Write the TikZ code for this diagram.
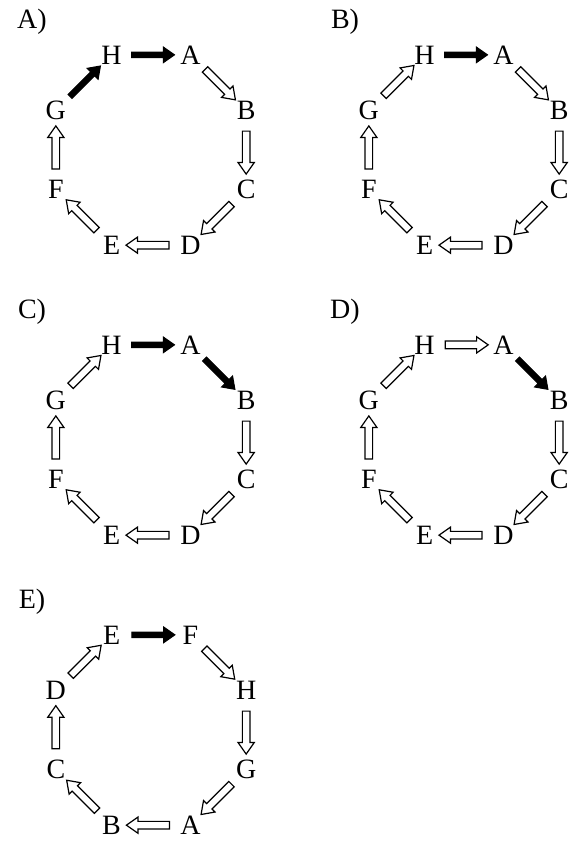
\documentclass[tikz,border=0pt]{standalone}
\usepackage{fontspec}
\setmainfont{Liberation Serif}
\usetikzlibrary{shapes.arrows, calc}

\tikzset{
  ltr/.style={inner sep=0pt, font=\fontsize{28}{32}\selectfont},
  blk/.style={single arrow, draw, line width=1.2pt, inner xsep=0pt, inner ysep=3.2pt,
    minimum height=43pt, single arrow head extend=4.3pt, single arrow tip angle=70,
    allow upside down},
  hol/.style={blk, fill=white},
  sol/.style={blk, fill=black, line width=1pt, inner ysep=2.3pt, single arrow head extend=5pt}
}

% one ring of eight letters, arrows running clockwise
\newcommand{\ring}[4]{%
  \begin{scope}[shift={#2}]
    \node[ltr] at (-119pt,128pt) {#1)};
    \foreach \l [count=\i] in {#3}
      \node[ltr] (#1\i) at ({112.5-45*(\i-1)}:103pt) {\l};
    \foreach \s [count=\i] in {#4} {
      \pgfmathtruncatemacro\j{mod(\i,8)+1}
      \path (#1\i) -- (#1\j) node[midway, sloped, \s] {};
    }
  \end{scope}}

\begin{document}
\begin{tikzpicture}
  \useasboundingbox (0,0) rectangle (582pt,-844pt);
  \ring{A}{(151pt,-150pt)}{H,A,B,C,D,E,F,G}{sol,hol,hol,hol,hol,hol,hol,sol}
  \ring{B}{(464pt,-150pt)}{H,A,B,C,D,E,F,G}{sol,hol,hol,hol,hol,hol,hol,hol}
  \ring{C}{(151pt,-440pt)}{H,A,B,C,D,E,F,G}{sol,sol,hol,hol,hol,hol,hol,hol}
  \ring{D}{(464pt,-440pt)}{H,A,B,C,D,E,F,G}{hol,sol,hol,hol,hol,hol,hol,hol}
  \ring{E}{(151pt,-730pt)}{E,F,H,G,A,B,C,D}{sol,hol,hol,hol,hol,hol,hol,hol}
\end{tikzpicture}
\end{document}
